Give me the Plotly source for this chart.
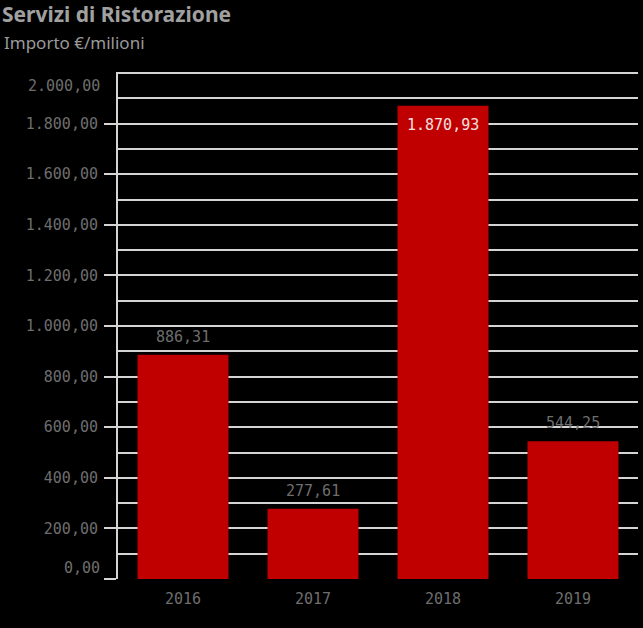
import plotly.graph_objects as go

years = ["2016", "2017", "2018", "2019"]
values = [886.31, 277.61, 1870.93, 544.25]
tick_vals = [0, 200, 400, 600, 800, 1000, 1200, 1400, 1600, 1800, 2000]


def it_fmt(v):
    s = f"{v:,.2f}"
    return s.replace(",", "X").replace(".", ",").replace("X", ".")


MONO = "DejaVu Sans Mono, Liberation Mono, monospace"
GRAY = "#6e6e6e"
GRID = "#d4d4d4"

fig = go.Figure()
fig.add_trace(go.Bar(
    x=years, y=values, marker=dict(color="#c00000", line=dict(width=0)),
    hoverinfo="skip",
))

annotations = []
for i, v in enumerate(values):
    if v > 1500:
        annotations.append(dict(x=i, y=v, xref="x", yref="y", text=it_fmt(v),
                                showarrow=False, yanchor="top", yshift=-8,
                                font=dict(family=MONO, size=15, color="#f4e0e0")))
    else:
        annotations.append(dict(x=i, y=v, xref="x", yref="y", text=it_fmt(v),
                                showarrow=False, yanchor="bottom", yshift=7,
                                font=dict(family=MONO, size=15, color=GRAY)))

# end labels shifted inward
annotations.append(dict(x=0, y=tick_vals[-1], xref="paper", yref="y", text=it_fmt(tick_vals[-1]),
                        showarrow=False, xanchor="right", yanchor="middle", xshift=-16, yshift=-13,
                        font=dict(family=MONO, size=15, color=GRAY)))
annotations.append(dict(x=0, y=tick_vals[0], xref="paper", yref="y", text=it_fmt(tick_vals[0]),
                        showarrow=False, xanchor="right", yanchor="middle", xshift=-16, yshift=11,
                        font=dict(family=MONO, size=15, color=GRAY)))

# subtitle
annotations.append(dict(x=-0.2231, y=1.0572, xref="paper", yref="paper", text="Importo €/milioni",
                        showarrow=False, xanchor="left", yanchor="middle",
                        font=dict(family="Noto Sans, sans-serif", size=17, color="#9a9a9a")))

mid_ticks = tick_vals[:-1]
fig.update_layout(
    width=643, height=628,
    paper_bgcolor="black", plot_bgcolor="black",
    margin=dict(l=118, r=5, t=72, b=49),
    showlegend=False,
    bargap=0.3,
    title=dict(text="<b>Servizi di Ristorazione</b>", x=0.003, xanchor="left",
               y=0.976, yanchor="middle", yref="container",
               font=dict(family="Noto Sans, sans-serif", size=21, color="#a0a0a0")),
    xaxis=dict(
        type="category",
        showgrid=False, zeroline=False, showline=False, ticks="",
        tickfont=dict(family=MONO, size=15, color=GRAY),
        range=[-0.5, 3.5], fixedrange=True,
        ticklabelstandoff=9,
    ),
    yaxis=dict(
        range=[0, 2004],
        tickvals=mid_ticks,
        ticktext=[""] + [it_fmt(v) for v in mid_ticks[1:]],
        tickfont=dict(family=MONO, size=15, color=GRAY),
        ticks="outside", ticklen=12, tickwidth=2, tickcolor=GRID,
        showgrid=True, gridcolor=GRID, gridwidth=2,
        zeroline=False,
        showline=True, linecolor=GRID, linewidth=2,
        minor=dict(dtick=100, tick0=0, showgrid=True, gridcolor=GRID, gridwidth=2, ticks=""),
        ticklabelstandoff=3,
        fixedrange=True,
    ),
    annotations=annotations,
)

fig.write_html("out.html", config={"displayModeBar": False},
               post_script="document.body.style.margin='0';document.body.style.background='black';")
